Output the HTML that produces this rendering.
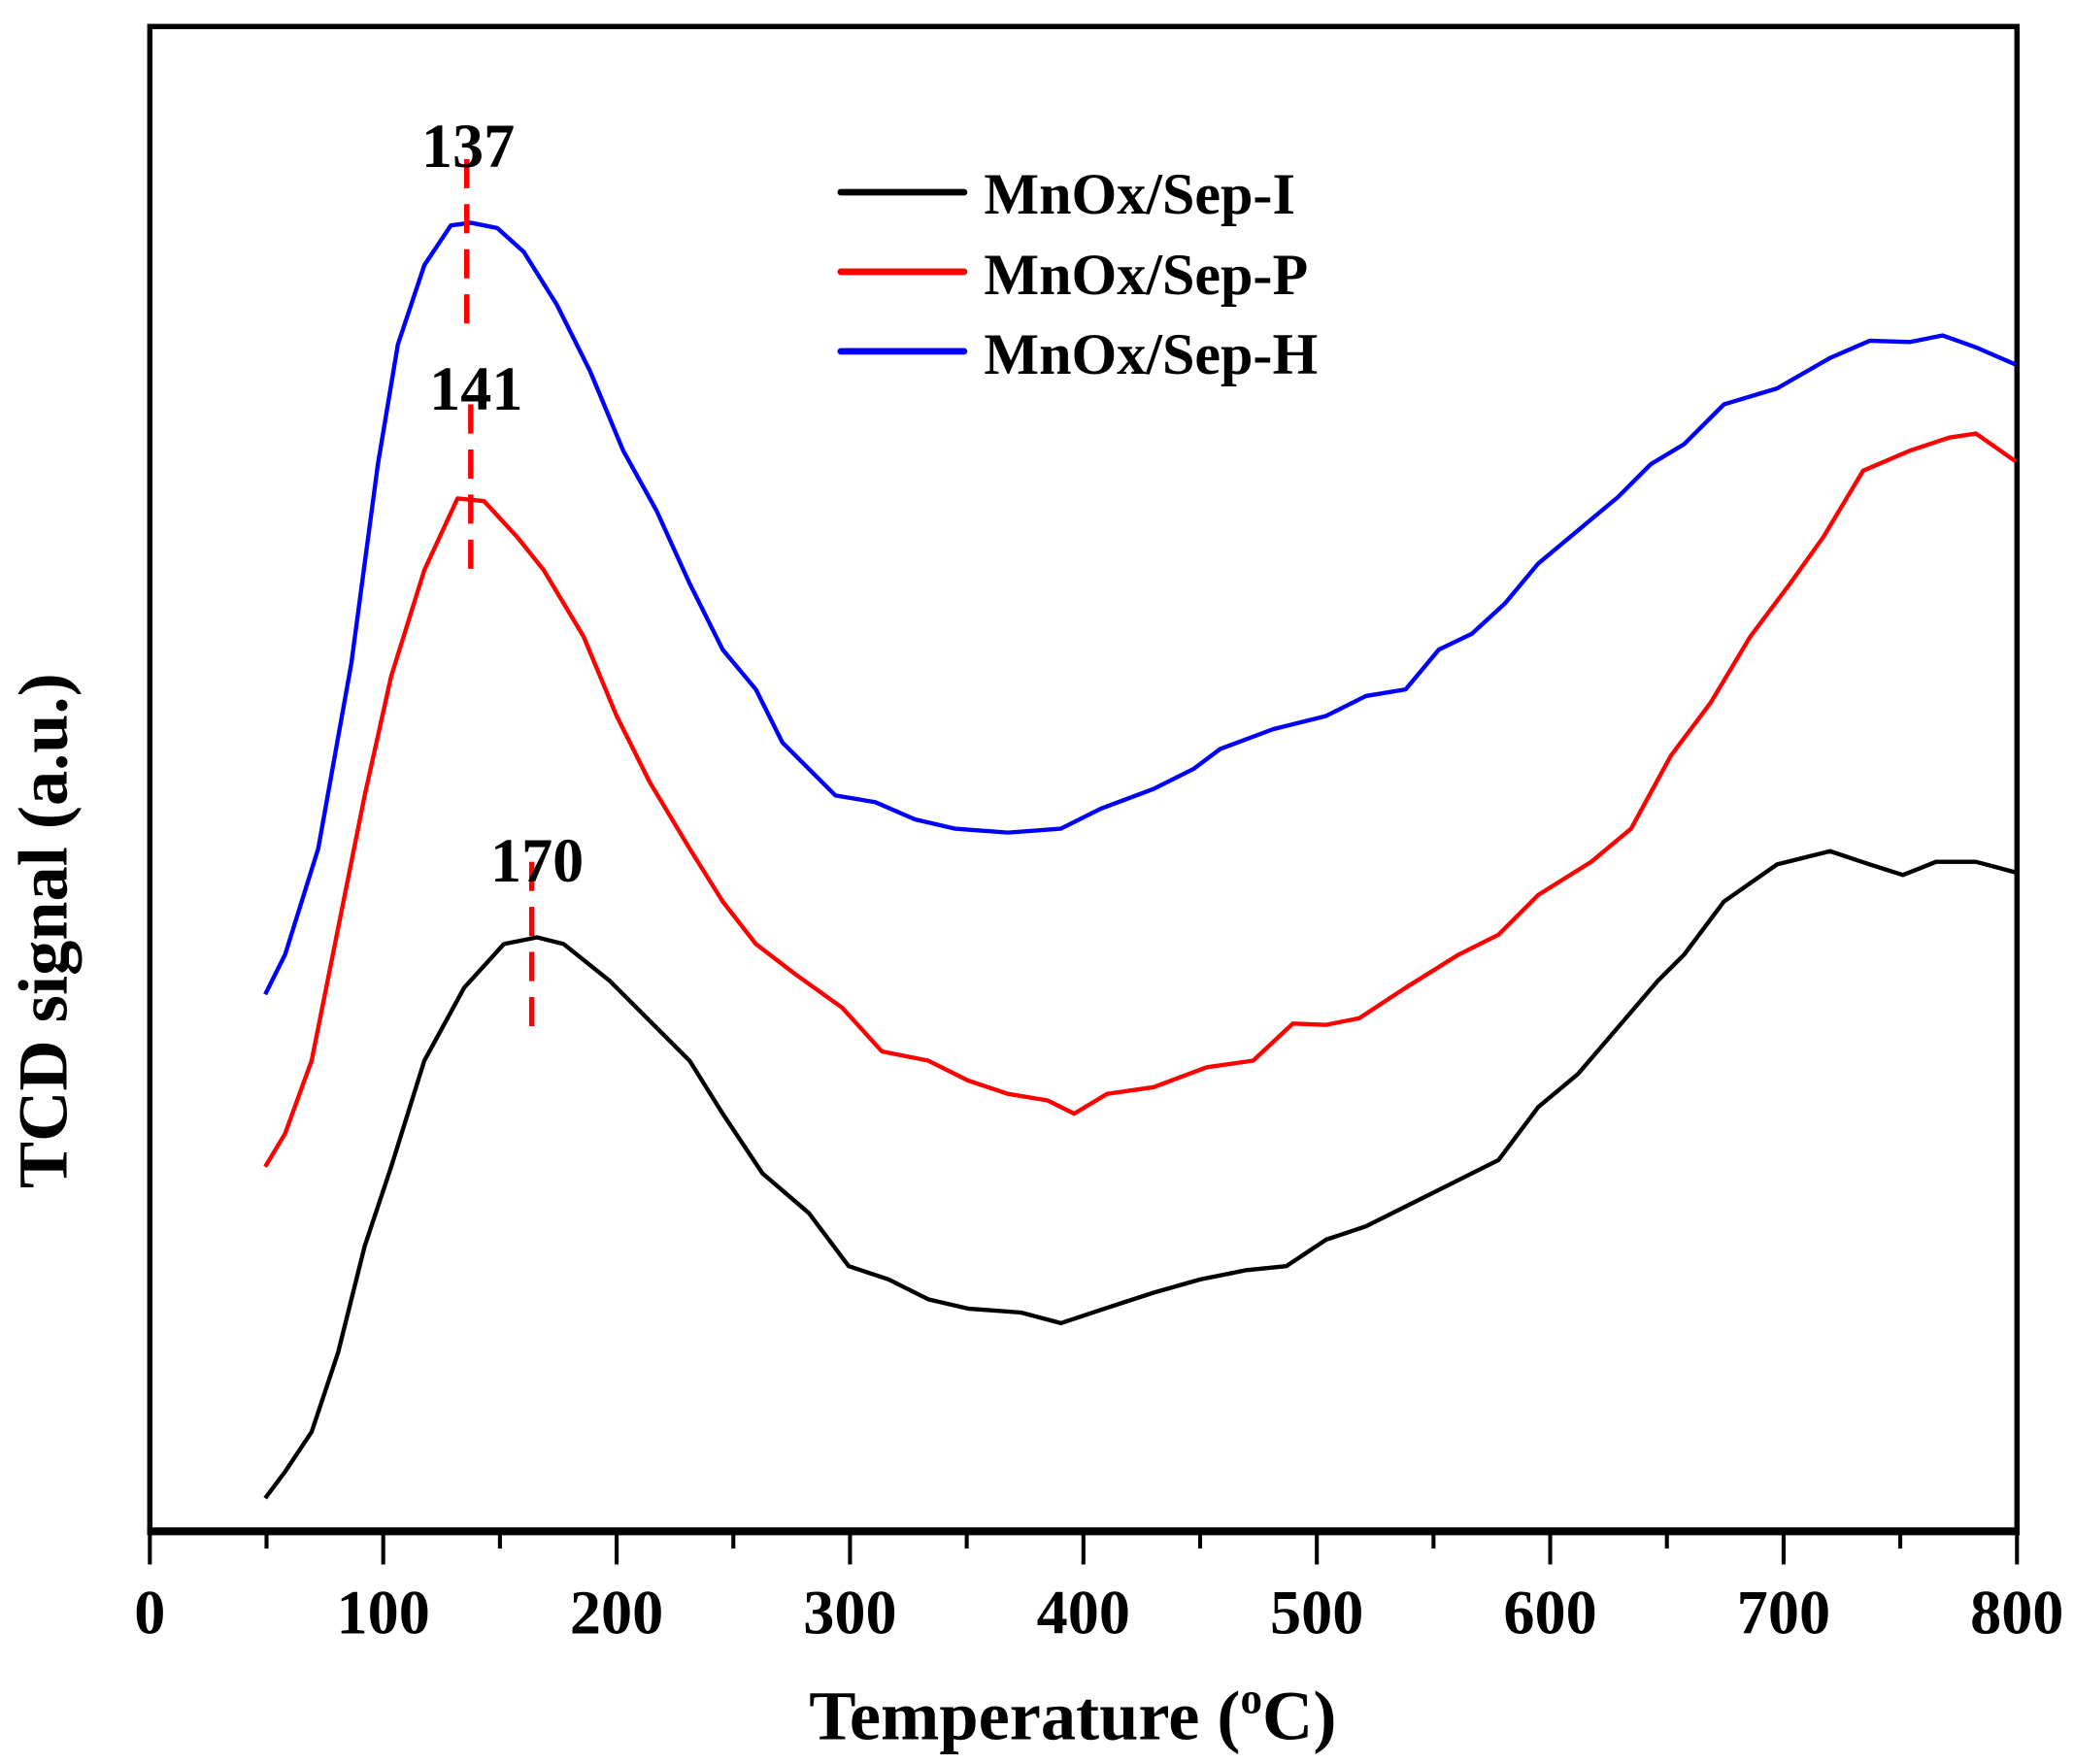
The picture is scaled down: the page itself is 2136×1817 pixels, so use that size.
<!DOCTYPE html>
<html><head><meta charset="utf-8"><style>html,body{margin:0;padding:0;background:#fff}svg{display:block}</style></head>
<body>
<svg width="2136" height="1817" viewBox="0 0 1564 1330.5" preserveAspectRatio="none" xmlns="http://www.w3.org/2000/svg" font-family="Liberation Serif, serif" font-weight="bold">
<rect x="113" y="20" width="1408" height="1135" fill="none" stroke="#000" stroke-width="4"/>
<line x1="111" y1="1155" x2="1523" y2="1155" stroke="#000" stroke-width="6"/>
<g stroke="#000" stroke-width="3">
<line x1="113" y1="1155" x2="113" y2="1180"/><line x1="289" y1="1155" x2="289" y2="1180"/><line x1="465" y1="1155" x2="465" y2="1180"/><line x1="641" y1="1155" x2="641" y2="1180"/><line x1="817" y1="1155" x2="817" y2="1180"/><line x1="993" y1="1155" x2="993" y2="1180"/><line x1="1169" y1="1155" x2="1169" y2="1180"/><line x1="1345" y1="1155" x2="1345" y2="1180"/><line x1="1521" y1="1155" x2="1521" y2="1180"/>
<line x1="201" y1="1155" x2="201" y2="1168"/><line x1="377" y1="1155" x2="377" y2="1168"/><line x1="553" y1="1155" x2="553" y2="1168"/><line x1="729" y1="1155" x2="729" y2="1168"/><line x1="905" y1="1155" x2="905" y2="1168"/><line x1="1081" y1="1155" x2="1081" y2="1168"/><line x1="1257" y1="1155" x2="1257" y2="1168"/><line x1="1433" y1="1155" x2="1433" y2="1168"/>
</g>
<g font-size="47" text-anchor="middle">
<text x="113" y="1232">0</text><text x="289" y="1232">100</text><text x="465" y="1232">200</text><text x="641" y="1232">300</text><text x="817" y="1232">400</text><text x="993" y="1232">500</text><text x="1169" y="1232">600</text><text x="1345" y="1232">700</text><text x="1521" y="1232">800</text>
</g>
<text x="809" y="1312" font-size="53" text-anchor="middle">Temperature (<tspan font-size="33" dy="-20">o</tspan><tspan dy="20">C)</tspan></text>
<text transform="translate(50,702) rotate(-90)" font-size="53" text-anchor="middle">TCD signal (a.u.)</text>
<g fill="none" stroke-width="3.2" stroke-linejoin="round">
<polyline stroke="#000" points="200,1130 215,1110 235,1080 255,1020 275,940 295,880 320,800 350,745 380,712 405,707 425,712 460,740 490,770 520,800 545,840 575,885 610,915 640,955 670,965 700,980 730,987 770,990 800,998 830,988 870,975 905,965 940,958 970,955 1000,935 1030,925 1060,910 1100,890 1130,875 1160,835 1190,810 1220,775 1250,740 1270,720 1300,680 1340,652 1380,642 1410,652 1435,660 1460,650 1490,650 1520,658"/>
<polyline stroke="#f00" points="200,880 215,855 235,800 255,700 275,600 295,510 320,430 345,376 365,378 390,405 410,430 440,480 465,540 490,590 520,640 545,680 570,712 600,735 635,760 665,793 700,800 730,815 760,825 790,830 810,840 835,825 870,820 910,805 945,800 975,772 1000,773 1025,768 1060,745 1100,720 1130,705 1160,675 1200,650 1230,625 1260,570 1290,530 1320,480 1350,440 1375,405 1405,355 1440,340 1470,330 1490,327 1520,348"/>
<polyline stroke="#00f" points="200,750 215,720 240,640 265,500 285,350 300,260 320,200 340,170 355,168 375,172 395,190 420,230 445,280 470,340 495,385 520,440 545,490 570,520 590,560 600,570 630,600 660,605 690,618 720,625 760,628 800,625 830,610 870,595 900,580 920,565 960,550 1000,540 1030,525 1060,520 1085,490 1110,478 1135,455 1160,425 1190,400 1220,375 1245,350 1270,335 1300,305 1340,293 1380,270 1410,257 1440,258 1465,253 1490,262 1520,275"/>
</g>
<g stroke="#f00" stroke-width="4" stroke-dasharray="22,12">
<line x1="352" y1="120" x2="352" y2="250"/>
<line x1="355" y1="305" x2="355" y2="440"/>
<line x1="401" y1="650" x2="401" y2="780"/>
</g>
<g font-size="47" text-anchor="middle">
<text x="353" y="126">137</text><text x="359" y="309">141</text><text x="405" y="665">170</text>
</g>
<g stroke-width="5" stroke-linecap="round">
<line x1="634" y1="145" x2="727" y2="145" stroke="#000"/>
<line x1="634" y1="205" x2="727" y2="205" stroke="#f00"/>
<line x1="634" y1="265" x2="727" y2="265" stroke="#00f"/>
</g>
<g font-size="44">
<text x="742" y="161">MnOx/Sep-I</text><text x="742" y="222">MnOx/Sep-P</text><text x="742" y="282">MnOx/Sep-H</text>
</g>
</svg>
</body></html>
